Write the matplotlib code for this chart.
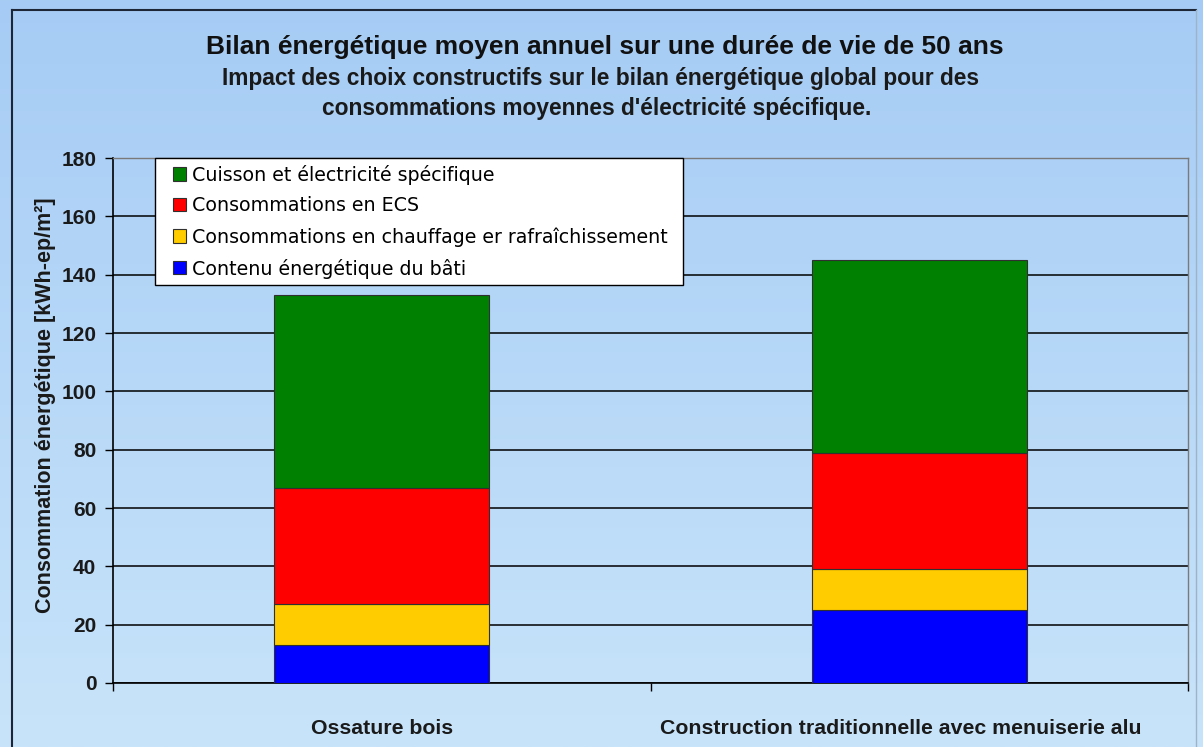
import numpy as np
import matplotlib.pyplot as plt
from matplotlib.lines import Line2D
from matplotlib.patches import Rectangle
from matplotlib.legend_handler import HandlerPatch

categories = ["Ossature bois", "Construction traditionnelle avec menuiserie alu"]
series_names = ["Contenu énergétique du bâti",
                "Consommations en chauffage er rafraîchissement",
                "Consommations en ECS",
                "Cuisson et électricité spécifique"]
bati = [13, 25]
chauffage = [14, 14]
ecs = [40, 40]
cuisson = [66, 66]
colors = ["#0000ff", "#ffcc00", "#ff0000", "#008000"]

W, H = 1203, 747
fig = plt.figure(figsize=(W / 100, H / 100), dpi=100)

# light blue gradient backdrop
bg = fig.add_axes([0, 0, 1, 1], zorder=-10)
grad = np.linspace(0, 1, 256).reshape(-1, 1)
top = np.array([166, 204, 245]) / 255
bot = np.array([200, 228, 250]) / 255
img = top + (bot - top) * grad[:, :, None]
bg.imshow(img, aspect="auto", extent=[0, 1, 0, 1])
bg.set_axis_off()

# outer frame
fig.add_artist(Line2D([12 / W, 12 / W], [0, 1 - 10 / H], color="#1c2636", lw=1.5))
fig.add_artist(Line2D([12 / W, 1196 / W], [1 - 10 / H, 1 - 10 / H], color="#1c2636", lw=1.5))
fig.add_artist(Line2D([1196 / W, 1196 / W], [0, 1 - 10 / H], color="#9fb3c8", lw=1))

ax = fig.add_axes([113 / W, 1 - 683 / H, (1188 - 113) / W, (683 - 158) / H])
ax.set_facecolor("none")

x = np.arange(len(categories))
data = [bati, chauffage, ecs, cuisson]
bottom = np.zeros(len(categories))
handles = []
for vals, name, c in zip(data, series_names, colors):
    b = ax.bar(x, vals, 0.4, bottom=bottom, color=c, edgecolor="#303030",
               linewidth=0.8, label=name, zorder=3)
    handles.append(b.patches[0])
    bottom += np.array(vals)

ax.set_xlim(-0.5, 1.5)
ax.set_ylim(0, 180)
ax.set_yticks(np.arange(0, 181, 20))
ax.yaxis.grid(True, color="black", lw=1.1, zorder=1)
ax.set_axisbelow(True)

# the long second label sits a little left of its bar in the original
ax.set_xticks(x - np.array([0, 0.035]))
ax.set_xticklabels(categories, fontsize=15.3, fontweight="bold",
                   family="Liberation Sans", color="#1a1a1a")
ax.set_xticks([-0.5, 0.5, 1.5], minor=True)
ax.tick_params(axis="x", which="major", length=0, pad=26)
ax.tick_params(axis="x", which="minor", length=6, width=1, direction="out")
ax.tick_params(axis="y", length=6, width=1, direction="out", pad=6)
for lab in ax.get_yticklabels():
    lab.set_fontsize(15)
    lab.set_fontweight("bold")
    lab.set_family("Liberation Sans")
    lab.set_color("#1a1a1a")

for s in ["top", "right"]:
    ax.spines[s].set_color("#7a7a7a")
    ax.spines[s].set_linewidth(1)
for s in ["left", "bottom"]:
    ax.spines[s].set_color("black")
    ax.spines[s].set_linewidth(1.2)

ax.set_ylabel("Consommation énergétique [kWh-ep/m²]", fontsize=15.5,
              fontweight="bold", family="Liberation Sans", color="#1a1a1a")
ax.yaxis.set_label_coords(-0.053, 0.53)


def square_patch(legend, orig_handle, xdescent, ydescent, width, height, fontsize):
    s = 9.5
    return Rectangle((-xdescent + width - s, -ydescent + (height - s) / 2), s, s)


leg = ax.legend(handles[::-1], series_names[::-1],
                loc="upper left", bbox_to_anchor=(42 / 1075, 0, 528 / 1075, 1.0),
                mode="expand",
                frameon=True, fancybox=False, edgecolor="black",
                facecolor="white", framealpha=1, fontsize=13.7,
                handlelength=1.3, handleheight=0.7, handletextpad=0.27,
                labelspacing=0.62, borderpad=0.35, borderaxespad=0,
                handler_map={Rectangle: HandlerPatch(patch_func=square_patch)})
leg.get_frame().set_linewidth(1)
leg.set_zorder(5)

fig.text(605 / W, 1 - 47 / H,
         "Bilan énergétique moyen annuel sur une durée de vie de 50 ans",
         ha="center", va="center", fontsize=19, fontweight="bold",
         family="Liberation Sans", color="#111111")
fig.text(601 / W, 1 - 78 / H,
         "Impact des choix constructifs sur le bilan énergétique global pour des",
         ha="center", va="center", fontsize=16.4, fontweight="bold",
         family="Liberation Sans", color="#1a1a1a")
fig.text(597 / W, 1 - 108 / H,
         "consommations moyennes d'électricité spécifique.",
         ha="center", va="center", fontsize=16.4, fontweight="bold",
         family="Liberation Sans", color="#1a1a1a")

fig.savefig("out.png", dpi=100)
